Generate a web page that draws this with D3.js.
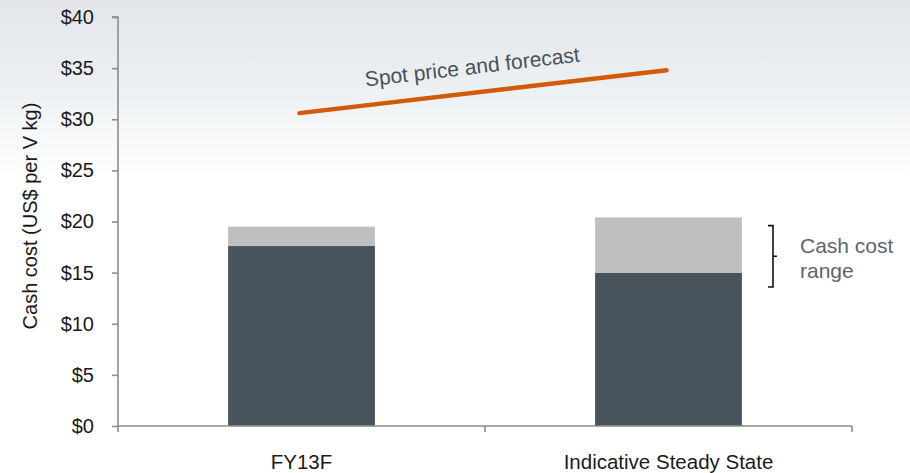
<!DOCTYPE html>
<html>
<head>
<meta charset="utf-8">
<script src="https://cdn.jsdelivr.net/npm/d3@7"></script>
<style>
  html, body { margin: 0; padding: 0; background: #fff; }
  svg { display: block; font-family: "Liberation Sans", Arial, sans-serif; }
</style>
</head>
<body>
<svg id="chart" width="910" height="473"></svg>
<script>
// ---- data ----
const categories = ["FY13F", "Indicative Steady State"];
const costLow = [17.6, 15.0];
const costHigh = [19.5, 20.4];
const spotPrice = [30.6, 34.8];
const yTicks = [0, 5, 10, 15, 20, 25, 30, 35, 40];
const bracketRange = [13.6, 19.6];
const yLabel = "Cash cost (US$ per V kg)";
const lineLabel = "Spot price and forecast";
const bracketLabel = ["Cash cost", "range"];

// ---- layout ----
const W = 910, H = 473;
const m = { left: 118, right: 58, top: 17, bottom: 47 };
const svg = d3.select("#chart");

// background gradient
const defs = svg.append("defs");
const grad = defs.append("linearGradient").attr("id", "bg").attr("x1", 0).attr("y1", 0).attr("x2", 0).attr("y2", 1);
grad.append("stop").attr("offset", "0").attr("stop-color", "#e3e6ea");
grad.append("stop").attr("offset", "0.2").attr("stop-color", "#eef1f3");
grad.append("stop").attr("offset", "0.38").attr("stop-color", "#ffffff");
grad.append("stop").attr("offset", "1").attr("stop-color", "#ffffff");
svg.append("rect").attr("width", W).attr("height", H).attr("fill", "url(#bg)");

const x = d3.scaleBand().domain(categories).range([m.left, W - m.right]).padding(0);
const y = d3.scaleLinear().domain([0, 40]).range([H - m.bottom, m.top]);
const barW = x.bandwidth() * 0.4;
const cx = d => x(d) + x.bandwidth() / 2;

// bars: dark base
svg.selectAll(".low").data(categories).join("rect")
  .attr("x", d => cx(d) - barW / 2)
  .attr("width", barW)
  .attr("y", (d, i) => y(costLow[i]))
  .attr("height", (d, i) => y(0) - y(costLow[i]))
  .attr("fill", "#48535b");
// bars: light range
svg.selectAll(".high").data(categories).join("rect")
  .attr("x", d => cx(d) - barW / 2)
  .attr("width", barW)
  .attr("y", (d, i) => y(costHigh[i]))
  .attr("height", (d, i) => y(costLow[i]) - y(costHigh[i]))
  .attr("fill", "#bfbfbf");

// y axis
const yAxis = svg.append("g").attr("transform", `translate(${m.left},0)`)
  .call(d3.axisLeft(y).tickValues(yTicks).tickFormat(d => "$" + d).tickSize(6).tickPadding(18));
yAxis.selectAll("path, line").attr("stroke", "#8c8c8c").attr("stroke-width", 1.6);
yAxis.select(".domain").attr("d", `M-6,${y(40)}H0V${y(0)}`);
yAxis.selectAll("text").attr("font-size", 20).attr("fill", "#1a1a1a")
  .attr("font-family", "Liberation Sans, Arial, sans-serif");

// x axis (ticks at band boundaries, labels at centers)
const xg = svg.append("g");
xg.append("line").attr("x1", m.left).attr("x2", W - m.right)
  .attr("y1", y(0)).attr("y2", y(0)).attr("stroke", "#8c8c8c").attr("stroke-width", 1.6);
const bounds = categories.map(d => x(d)).concat([x(categories[categories.length - 1]) + x.bandwidth()]);
xg.selectAll(".xt").data(bounds).join("line")
  .attr("x1", d => d).attr("x2", d => d)
  .attr("y1", y(0)).attr("y2", y(0) + 6)
  .attr("stroke", "#8c8c8c").attr("stroke-width", 1.6);
xg.selectAll(".xl").data(categories).join("text")
  .attr("x", d => cx(d)).attr("y", 469)
  .attr("text-anchor", "middle").attr("font-size", 20.5).attr("fill", "#1a1a1a")
  .text(d => d);

// y label
svg.append("text")
  .attr("transform", `translate(37,216) rotate(-90)`)
  .attr("text-anchor", "middle").attr("font-size", 20).attr("fill", "#1a1a1a")
  .text(yLabel);

// spot price line
const line = d3.line().x((d, i) => cx(categories[i]) - 2).y(d => y(d));
svg.append("path").datum(spotPrice).attr("d", line)
  .attr("fill", "none").attr("stroke", "#d15a0b").attr("stroke-width", 4.5)
  .attr("stroke-linecap", "round");

// line label
const x0 = cx(categories[0]), x1 = cx(categories[1]);
const angle = Math.atan2(y(spotPrice[1]) - y(spotPrice[0]), x1 - x0) * 180 / Math.PI;
const lx = 473, ly = y(spotPrice[0]) + (y(spotPrice[1]) - y(spotPrice[0])) * (lx - x0) / (x1 - x0) - 19;
svg.append("text")
  .attr("transform", `translate(${lx},${ly}) rotate(${angle})`)
  .attr("text-anchor", "middle").attr("font-size", 21).attr("fill", "#48535b")
  .text(lineLabel);

// bracket
const bx = 773, by0 = y(bracketRange[1]), by1 = y(bracketRange[0]);
svg.append("path")
  .attr("d", `M${bx - 5},${by0}H${bx}V${by1}H${bx - 5}M${bx},${(by0 + by1) / 2}H${bx + 4}`)
  .attr("fill", "none").attr("stroke", "#111").attr("stroke-width", 1.6);
svg.append("text").attr("x", 800).attr("y", 253).attr("font-size", 21).attr("fill", "#5b6670")
  .selectAll("tspan").data(bracketLabel).join("tspan")
  .attr("x", 800).attr("dy", (d, i) => i === 0 ? 0 : 25).text(d => d);
</script>
</body>
</html>
